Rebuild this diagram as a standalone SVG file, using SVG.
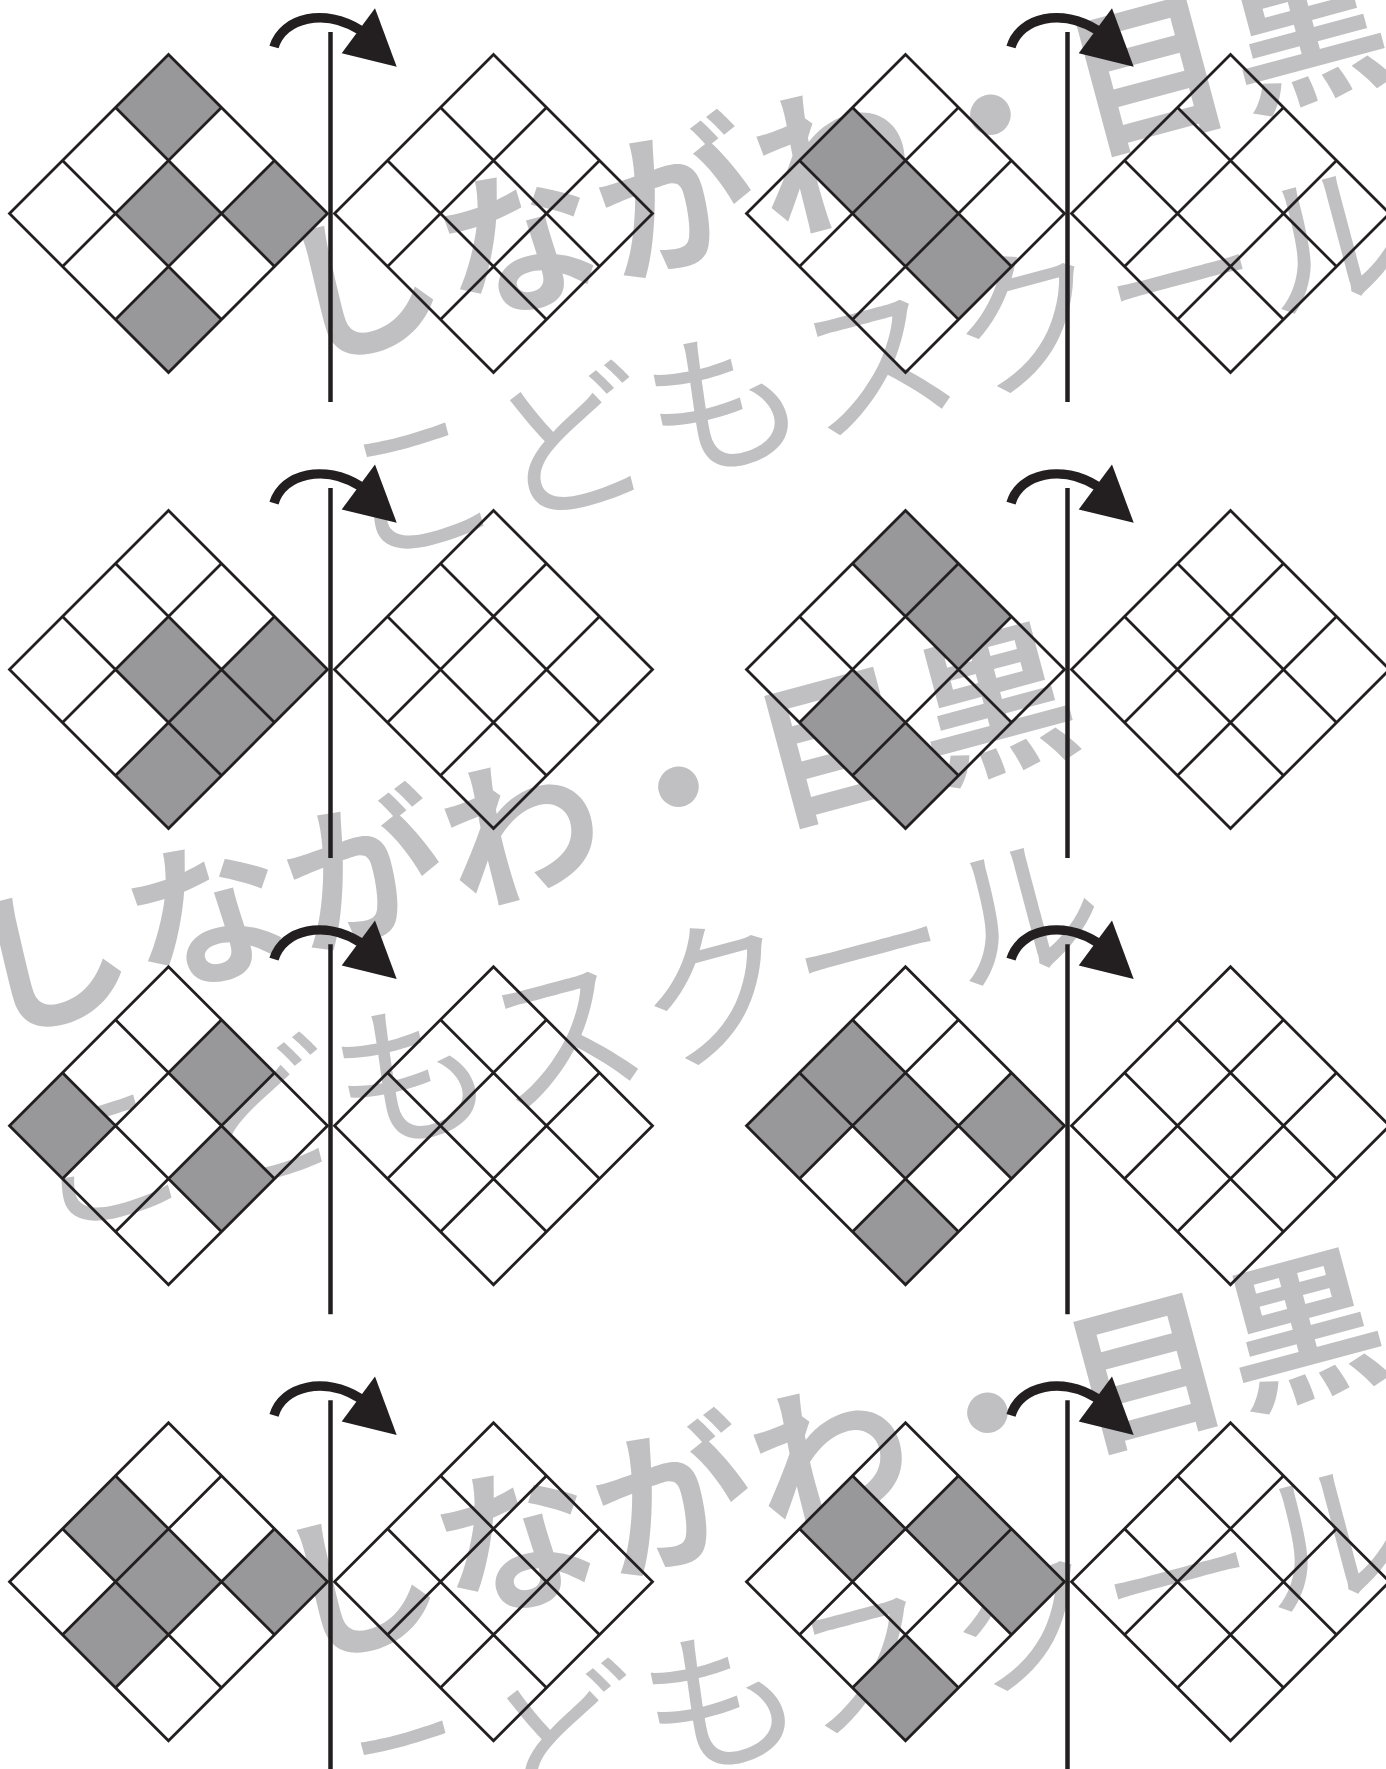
<svg xmlns="http://www.w3.org/2000/svg" xmlns:xlink="http://www.w3.org/1999/xlink" width="1386" height="1769" viewBox="0 0 1386 1769">
<style>
  .wm1 { font-family: "Noto Sans CJK JP", "Noto Sans CJK SC", sans-serif; font-size: 158px; font-weight: 700; letter-spacing: 5px; fill: #c0c0c2; }
  .wm2 { font-family: "Noto Sans CJK JP", "Noto Sans CJK SC", sans-serif; font-size: 158px; font-weight: 400; fill: #c0c0c2; }
  .shade { fill: #98989b; }
  .grid { fill: none; stroke: #231f20; stroke-width: 2.8; stroke-linejoin: miter; }
  .axis { stroke: #231f20; stroke-width: 4.5; }
  .arc { fill: none; stroke: #231f20; stroke-width: 9.5; }
  .head { fill: #231f20; }
</style>
<defs>
  <path id="cell" d="M0,-53 L53,0 L0,53 L-53,0 Z"/>
  <g id="grid" class="grid">
    <path d="M0,-159 L159,0 L0,159 L-159,0 Z"/>
    <path d="M-106,-53 L53,106 M-53,-106 L106,53 M-106,53 L53,-106 M-53,106 L106,-53"/>
  </g>
  <g id="arrow">
    <path class="arc" d="M-56.5,15 C-47.5,-15 -5.5,-24 29.5,-2"/>
    <polygon class="head" points="44.5,-23.7 66.2,34.7 11.2,21.3"/>
  </g>
</defs>

<g id="watermark">
  <g transform="translate(300,362) rotate(-15)">
    <text class="wm1" x="0" y="0">しながわ・目黒</text>
    <text class="wm2" x="3" y="207">こどもスクール</text>
  </g>
  <g transform="translate(-12,1034) rotate(-15)">
    <text class="wm1" x="0" y="0">しながわ・目黒</text>
    <text class="wm2" x="3" y="207">こどもスクール</text>
  </g>
  <g transform="translate(297,1660) rotate(-15)">
    <text class="wm1" x="0" y="0">しながわ・目黒</text>
    <text class="wm2" x="3" y="207">こどもスクール</text>
  </g>
</g>

<!-- Panel 1 -->
<g id="panel-1">
  <g transform="translate(168.5,213.5)">
    <use href="#cell" class="shade" x="0" y="-106"/>
    <use href="#cell" class="shade" x="0" y="0"/>
    <use href="#cell" class="shade" x="106" y="0"/>
    <use href="#cell" class="shade" x="0" y="106"/>
    <use href="#grid"/>
  </g>
  <use href="#grid" x="493.5" y="213.5"/>
  <line class="axis" x1="330.5" y1="32" x2="330.5" y2="402"/>
  <use href="#arrow" x="330.5" y="32"/>
</g>

<!-- Panel 2 -->
<g id="panel-2">
  <g transform="translate(905.5,213.5)">
    <use href="#cell" class="shade" x="-53" y="-53"/>
    <use href="#cell" class="shade" x="0" y="0"/>
    <use href="#cell" class="shade" x="53" y="53"/>
    <use href="#grid"/>
  </g>
  <use href="#grid" x="1230.5" y="213.5"/>
  <line class="axis" x1="1067.5" y1="32" x2="1067.5" y2="402"/>
  <use href="#arrow" x="1067.5" y="32"/>
</g>

<!-- Panel 3 -->
<g id="panel-3">
  <g transform="translate(168.5,669.6)">
    <use href="#cell" class="shade" x="0" y="0"/>
    <use href="#cell" class="shade" x="106" y="0"/>
    <use href="#cell" class="shade" x="53" y="53"/>
    <use href="#cell" class="shade" x="0" y="106"/>
    <use href="#grid"/>
  </g>
  <use href="#grid" x="493.5" y="669.6"/>
  <line class="axis" x1="330.5" y1="488.1" x2="330.5" y2="858.1"/>
  <use href="#arrow" x="330.5" y="488.1"/>
</g>

<!-- Panel 4 -->
<g id="panel-4">
  <g transform="translate(905.5,669.6)">
    <use href="#cell" class="shade" x="0" y="-106"/>
    <use href="#cell" class="shade" x="53" y="-53"/>
    <use href="#cell" class="shade" x="-53" y="53"/>
    <use href="#cell" class="shade" x="0" y="106"/>
    <use href="#grid"/>
  </g>
  <use href="#grid" x="1230.5" y="669.6"/>
  <line class="axis" x1="1067.5" y1="488.1" x2="1067.5" y2="858.1"/>
  <use href="#arrow" x="1067.5" y="488.1"/>
</g>

<!-- Panel 5 -->
<g id="panel-5">
  <g transform="translate(168.5,1125.7)">
    <use href="#cell" class="shade" x="-106" y="0"/>
    <use href="#cell" class="shade" x="53" y="-53"/>
    <use href="#cell" class="shade" x="53" y="53"/>
    <use href="#grid"/>
  </g>
  <use href="#grid" x="493.5" y="1125.7"/>
  <line class="axis" x1="330.5" y1="944.2" x2="330.5" y2="1314.2"/>
  <use href="#arrow" x="330.5" y="944.2"/>
</g>

<!-- Panel 6 -->
<g id="panel-6">
  <g transform="translate(905.5,1125.7)">
    <use href="#cell" class="shade" x="-53" y="-53"/>
    <use href="#cell" class="shade" x="-106" y="0"/>
    <use href="#cell" class="shade" x="0" y="0"/>
    <use href="#cell" class="shade" x="106" y="0"/>
    <use href="#cell" class="shade" x="0" y="106"/>
    <use href="#grid"/>
  </g>
  <use href="#grid" x="1230.5" y="1125.7"/>
  <line class="axis" x1="1067.5" y1="944.2" x2="1067.5" y2="1314.2"/>
  <use href="#arrow" x="1067.5" y="944.2"/>
</g>

<!-- Panel 7 -->
<g id="panel-7">
  <g transform="translate(168.5,1581.8)">
    <use href="#cell" class="shade" x="-53" y="-53"/>
    <use href="#cell" class="shade" x="0" y="0"/>
    <use href="#cell" class="shade" x="106" y="0"/>
    <use href="#cell" class="shade" x="-53" y="53"/>
    <use href="#grid"/>
  </g>
  <use href="#grid" x="493.5" y="1581.8"/>
  <line class="axis" x1="330.5" y1="1400.3" x2="330.5" y2="1769"/>
  <use href="#arrow" x="330.5" y="1400.3"/>
</g>

<!-- Panel 8 -->
<g id="panel-8">
  <g transform="translate(905.5,1581.8)">
    <use href="#cell" class="shade" x="-53" y="-53"/>
    <use href="#cell" class="shade" x="53" y="-53"/>
    <use href="#cell" class="shade" x="106" y="0"/>
    <use href="#cell" class="shade" x="0" y="106"/>
    <use href="#grid"/>
  </g>
  <use href="#grid" x="1230.5" y="1581.8"/>
  <line class="axis" x1="1067.5" y1="1400.3" x2="1067.5" y2="1769"/>
  <use href="#arrow" x="1067.5" y="1400.3"/>
</g>
</svg>
